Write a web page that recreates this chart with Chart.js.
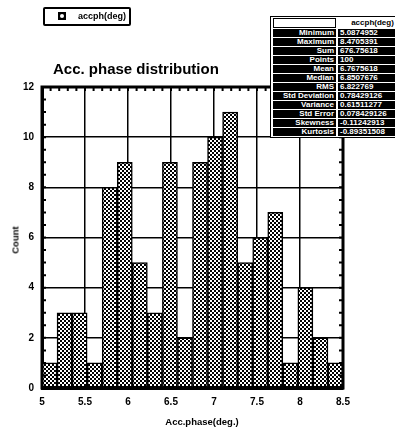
<!DOCTYPE html>
<html>
<head>
<meta charset="utf-8">
<script src="https://cdn.jsdelivr.net/npm/chart.js@4.4.0/dist/chart.umd.min.js"></script>
<style>
  html, body { margin:0; padding:0; background:#fff; overflow:hidden; width:395px; height:432px; }
  #wrap { position:relative; width:395px; height:432px; font-family:"Liberation Sans", Arial, sans-serif; }
  canvas { position:absolute; left:0; top:0; }
  .ov { position:absolute; font-weight:bold; color:#000; white-space:nowrap; }
  #legend { left:43px; top:7px; width:84px; height:15px; border:2px solid #000; border-radius:2px; background:#fff; }
  #legend .ico { position:absolute; left:13px; top:3px; width:8px; height:8px; background:#000; }
  #legend .ico i { position:absolute; left:2px; top:2px; width:4px; height:4px; background:#fff; border-radius:2px; }
  #legend span { position:absolute; left:33px; top:1px; font-size:9px; line-height:12px; }
  #title { left:53px; top:60px; font-size:15px; line-height:17px; font-weight:900; }
  #xtitle { left:202px; top:416px; transform:translateX(-50%); font-size:9.5px; line-height:11px; }
  #ytitle { left:15px; top:240px; transform:translate(-50%,-50%) rotate(-90deg); font-size:9.5px; line-height:11px; }
  #stats { position:absolute; left:270px; top:16px; border:1px solid #000; background:#fff;
           border-collapse:separate; border-spacing:2px 1.4px; table-layout:fixed; width:140px; }
  #stats td { height:8px; line-height:8px; padding:0 2px; font-size:8px; font-weight:bold; background:#000; color:#fff; overflow:hidden; white-space:nowrap; }
  #stats td.k { text-align:right; width:57px; }
  #stats td.v { text-align:left; width:65px; }
  #stats tr.h td.k { background:#fff; border:1px solid #000; }
  #stats tr.h td.v { background:#fff; color:#000; text-align:center; }
</style>
</head>
<body>
<div id="wrap">
  <canvas id="c" width="395" height="432"></canvas>
  <div id="legend" class="ov"><div class="ico"><i></i></div><span id="legtext"></span></div>
  <div id="title" class="ov">Acc. phase distribution</div>
  <div id="xtitle" class="ov">Acc.phase(deg.)</div>
  <div id="ytitle" class="ov">Count</div>
  <table id="stats"></table>
</div>
<script>
// ---- data ----
const seriesName = 'accph(deg)';
const binCenters = [5.0875, 5.2625, 5.4375, 5.6125, 5.7875, 5.9625, 6.1375, 6.3125, 6.4875, 6.6625,
                    6.8375, 7.0125, 7.1875, 7.3625, 7.5375, 7.7125, 7.8875, 8.0625, 8.2375, 8.4125];
const counts = [1, 3, 3, 1, 8, 9, 5, 3, 9, 2, 9, 10, 11, 5, 6, 7, 1, 4, 2, 1];
const xTicks = [5, 5.5, 6, 6.5, 7, 7.5, 8, 8.5];
const xTickLabels = ['5', '5.5', '6', '6.5', '7', '7.5', '8', '8.5'];
const yTicks = [0, 2, 4, 6, 8, 10, 12];
const yTickLabels = ['0', '2', '4', '6', '8', '10', '12'];
const statNames = ['Minimum', 'Maximum', 'Sum', 'Points', 'Mean', 'Median', 'RMS',
                   'Std Deviation', 'Variance', 'Std Error', 'Skewness', 'Kurtosis'];
const statValues = ['5.0874952', '8.4705391', '676.75618', '100', '6.7675618', '6.8507676', '6.822769',
                    '0.78429126', '0.61511277', '0.078429126', '-0.11242913', '-0.89351508'];

// ---- overlays ----
document.getElementById('legtext').textContent = seriesName;
const tbl = document.getElementById('stats');
let html = '<tr class="h"><td class="k"></td><td class="v">' + seriesName + '</td></tr>';
statNames.forEach((n, i) => { html += '<tr><td class="k">' + n + '</td><td class="v">' + statValues[i] + '</td></tr>'; });
tbl.innerHTML = html;

// ---- pattern ----
const pc = document.createElement('canvas');
pc.width = 4; pc.height = 4;
const pctx = pc.getContext('2d');
pctx.fillStyle = '#fff'; pctx.fillRect(0, 0, 4, 4);
pctx.fillStyle = '#000'; pctx.fillRect(0, 0, 2, 2); pctx.fillRect(2, 2, 2, 2);
const ctx = document.getElementById('c').getContext('2d');
const pattern = ctx.createPattern(pc, 'repeat');

const frame = {
  id: 'frame',
  afterDraw(chart) {
    const { ctx, chartArea: a, scales } = chart;
    ctx.save();
    ctx.strokeStyle = '#000';
    ctx.lineWidth = 3;
    ctx.strokeRect(a.left, a.top, a.right - a.left, a.bottom - a.top);
    ctx.lineWidth = 2;
    ctx.beginPath();
    for (let v = 0.5; v < 12; v += 0.5) {
      const y = scales.y.getPixelForValue(v);
      ctx.moveTo(a.left, y); ctx.lineTo(a.left + 4, y);
      ctx.moveTo(a.right, y); ctx.lineTo(a.right - 4, y);
    }
    for (let k = 1; k < 35; k++) {
      const x = scales.x.getPixelForValue(5 + k * 0.1);
      ctx.moveTo(x, a.top); ctx.lineTo(x, a.top + 4);
    }
    ctx.stroke();
    ctx.restore();
  }
};

new Chart(ctx, {
  type: 'bar',
  data: {
    datasets: [{
      label: seriesName,
      data: binCenters.map((x, i) => ({ x: x, y: counts[i] })),
      backgroundColor: pattern,
      borderColor: '#000',
      borderWidth: 1.5,
      borderSkipped: false,
      barPercentage: 1,
      categoryPercentage: 1
    }]
  },
  options: {
    responsive: false,
    animation: false,
    events: [],
    layout: { padding: { top: 87, right: 52, left: 0, bottom: 0 } },
    plugins: { legend: { display: false }, tooltip: { enabled: false }, title: { display: false } },
    scales: {
      x: {
        type: 'linear', min: 5, max: 8.5, offset: false,
        afterBuildTicks: s => { s.ticks = xTicks.map(v => ({ value: v })); },
        afterFit: s => { s.height = 44; },
        grid: { offset: false, color: '#000', lineWidth: 1.5, drawTicks: false },
        border: { display: true, color: '#000', width: 3 },
        ticks: {
          padding: 8, color: '#000', maxRotation: 0, autoSkip: false,
          font: { family: '"Liberation Sans", Arial, sans-serif', size: 10, weight: 'bold' },
          callback: v => xTickLabels[xTicks.indexOf(v)]
        }
      },
      y: {
        min: 0, max: 12,
        afterBuildTicks: s => { s.ticks = yTicks.map(v => ({ value: v })); },
        afterFit: s => { s.width = 42; },
        grid: { color: '#000', lineWidth: 1.5, drawTicks: false },
        border: { display: true, color: '#000', width: 3 },
        ticks: {
          padding: 8, color: '#000', autoSkip: false,
          font: { family: '"Liberation Sans", Arial, sans-serif', size: 10, weight: 'bold' },
          callback: v => yTickLabels[yTicks.indexOf(v)]
        }
      }
    }
  },
  plugins: [frame]
});
</script>
</body>
</html>
